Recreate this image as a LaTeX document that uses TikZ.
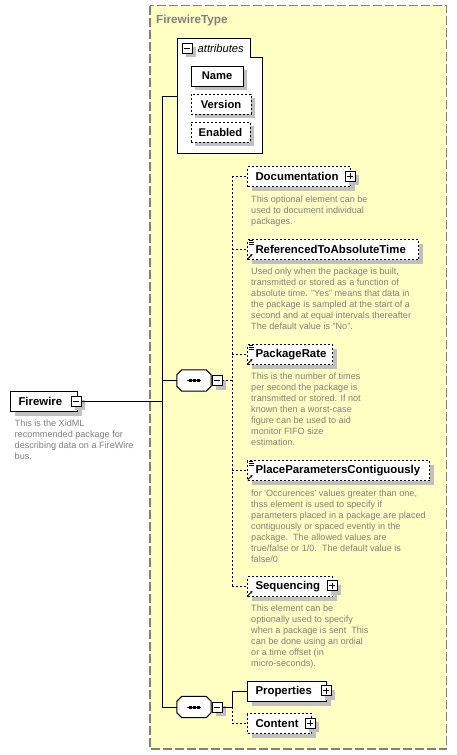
\documentclass[tikz,border=0pt]{standalone}
\usepackage{fontspec}
\setmainfont{Liberation Sans}
\usetikzlibrary{arrows.meta}
\definecolor{bgyellow}{RGB}{255,255,196}
\definecolor{descgray}{RGB}{128,128,128}
\definecolor{shadowgray}{RGB}{192,192,192}
\definecolor{bordergray}{RGB}{128,128,128}
\newcommand\seqoct[1]{%
  \fill[shadowgray,shift={(4,4)}] ([xshift=5pt]#1.north west) -- ([xshift=-5pt]#1.north east) -- ([yshift=-5pt]#1.north east)
    -- ([yshift=5pt]#1.south east) -- ([xshift=-5pt]#1.south east) -- ([xshift=5pt]#1.south west)
    -- ([yshift=5pt]#1.south west) -- ([yshift=-5pt]#1.north west) -- cycle;
  \draw[line width=1pt,fill=white] ([xshift=5pt]#1.north west) -- ([xshift=-5pt]#1.north east) -- ([yshift=-5pt]#1.north east)
    -- ([yshift=5pt]#1.south east) -- ([xshift=-5pt]#1.south east) -- ([xshift=5pt]#1.south west)
    -- ([yshift=5pt]#1.south west) -- ([yshift=-5pt]#1.north west) -- cycle;
  \draw[line width=1pt] ([xshift=-7pt]#1.center) -- ([xshift=7pt]#1.center);
  \foreach \dx in {-4,0,4}{\fill ([xshift=\dx pt]#1.center) +(-1.5pt,-1.5pt) rectangle +(1.5pt,1.5pt);}%
}
\begin{document}
\begin{tikzpicture}[x=1pt,y=-1pt,
  shadowed/.style={preaction={draw=none,fill=shadowgray,transform canvas={xshift=4pt,yshift=-4pt}}},
  elbox/.style={draw,fill=white,line width=1pt,minimum height=20pt,inner xsep=8pt,inner ysep=0pt,
    anchor=north west,align=left,font=\fontsize{11.4}{13}\selectfont\bfseries,shadowed},
  optbox/.style={elbox,dash pattern=on 2pt off 2pt},
  attbox/.style={draw,fill=white,line width=1pt,minimum height=20pt,inner sep=0pt,
    font=\fontsize{11.2}{13}\selectfont\bfseries,shadowed},
  optatt/.style={attbox,dash pattern=on 2pt off 2pt},
  pmbox/.style={draw,fill=white,line width=0.8pt,minimum size=10pt,inner sep=0pt,shadowed},
  minusbox/.style={pmbox,path picture={\draw[line width=0.8pt]
    ([xshift=2pt]path picture bounding box.west) -- ([xshift=-2pt]path picture bounding box.east);}},
  plusbox/.style={pmbox,path picture={\draw[line width=0.8pt]
    ([xshift=2pt]path picture bounding box.west) -- ([xshift=-2pt]path picture bounding box.east)
    ([yshift=-2pt]path picture bounding box.north) -- ([yshift=2pt]path picture bounding box.south);}},
  seqbox/.style={rectangle,draw=none,minimum width=34pt,minimum height=21pt,inner sep=0pt},
  desc/.style={anchor=north west,inner sep=0pt,align=left,font=\fontsize{9.1}{11}\selectfont,text=descgray},
  conn/.style={line width=1pt},
  dconn/.style={line width=1pt,dash pattern=on 2pt off 2pt},
  icon/.style={line width=0.8pt}
]
\useasboundingbox (0,0) rectangle (457,755);
\fill[white] (0,0) rectangle (457,755);

% outer type box
\draw[fill=bgyellow,draw=bordergray,line width=1.2pt,dash pattern=on 9pt off 3pt] (150,5.5) rectangle (446.5,749);
\node[anchor=base west,inner sep=0pt,text=bordergray,font=\fontsize{11.7}{13}\selectfont\bfseries] (ftype) at (156,23) {FirewireType};

% coordinates for connectors
\coordinate (tTop) at (162,96);
\coordinate (tBot) at (162,707);
\coordinate (attrW) at (177,96);
\coordinate (dTop) at (232,176);
\coordinate (dBot) at (232,585.5);
\coordinate (k) at (232,707);

% trunk line
\draw[conn] (tTop) -- (tBot);
\draw[conn] (tTop) -- (attrW);

% attributes box
\draw[line width=1pt,fill=white] (177,38) -- (250,38) -- (250,57) -- (262,57) -- (262,153) -- (177,153) -- cycle;
\node[minusbox,preaction={}] (attm) at (187,48) {};
\node[anchor=west,inner sep=0pt,font=\fontsize{11.2}{13}\selectfont\itshape] (attrlbl) at (197.5,48) {attributes};
\node[attbox,minimum width=52pt] (name) at (217,76) {Name};
\node[optatt,minimum width=60pt] (version) at (221,104) {Version};
\node[optatt,minimum width=59pt] (enabled) at (220.5,132) {Enabled};

% Firewire element
\node[elbox,text width=51pt] (fw) at (10,391) {\mbox{Firewire}};
\node[minusbox] (fwm) at (76,401) {};
\coordinate (j0) at (162,401);
\draw[conn] (fwm.east) -- (j0);
\node[desc] (fwd) at (14.5,418.8) {\strut This is the XidML\\recommended package for\\describing data on a FireWire\\bus.};

% first sequence
\node[seqbox] (s1) at (194,380.5) {};
\seqoct{s1}
\node[minusbox] (s1m) at (217,380.5) {};
\draw[conn] (s1.west -| tTop) -- (s1.west);
\draw[dconn] (s1m.east) -- (s1m.east -| dTop);
\draw[dconn] (dTop) -- (dBot);

% children of first sequence
\node[optbox,text width=87pt] (doc) at (247,166) {\mbox{Documentation}};
\node[plusbox] (docp) at (350,176) {};
\node[desc] (docd) at (251,194.3) {\strut This optional element can be\\used to document individual\\packages.};

\node[optbox,text width=155pt] (ref) at (247,239) {\mbox{ReferencedToAbsoluteTime}};
\node[desc] (refd) at (251,266.8) {\strut Used only when the package is built,\\transmitted or stored as a function of\\absolute time. "Yes" means that data in\\the package is sampled at the start of a\\second and at equal intervals thereafter\\The default value is "No".};

\node[optbox,text width=69pt] (rate) at (247,344) {\mbox{PackageRate}};
\node[desc] (rated) at (251,371.3) {\strut This is the number of times\\per second the package is\\transmitted or stored. If not\\known then a worst-case\\figure can be used to aid\\monitor FIFO size\\estimation.};

\node[optbox,text width=166pt] (ppc) at (247,460) {\mbox{PlaceParametersContiguously}};
\node[desc] (ppcd) at (251,488.3) {\strut for \textquotesingle Occurences\textquotesingle\ values greater than one,\\thss element is used to specify if\\parameters placed in a package are placed\\contiguously or spaced evently in the\\package.\ \ The allowed values are\\true/false or 1/0.\ \ The default value is\\false/0};

\node[optbox,text width=69pt] (seqg) at (247,576) {\mbox{Sequencing}};
\node[plusbox] (seqgp) at (332,585.5) {};
\node[desc] (seqgd) at (251,603.8) {\strut This element can be\\optionally used to specify\\when a package is sent\ \ This\\can be done using an ordial\\or a time offset (in\\micro-seconds).};

\foreach \n in {doc,ref,rate,ppc,seqg}{\draw[dconn] (\n.west -| dTop) -- (\n.west);}

% icons
\foreach \n in {ref,rate,ppc}{
  \draw[icon] ([shift={(1.5,1.5)}]\n.north west) -- ++(4,0)
              ([shift={(1.5,3.5)}]\n.north west) -- ++(5,0)
              ([shift={(1.5,5.5)}]\n.north west) -- ++(5,0);
}
\foreach \n in {ref,rate,ppc,seqg}{
  \draw[icon,-{Stealth[length=2.5pt,width=2.5pt]}] ([shift={(1,-1.5)}]\n.south west) -- ++(4.5,-4.5);
}

% second sequence
\node[seqbox] (s2) at (194,707) {};
\seqoct{s2}
\node[minusbox] (s2m) at (217,707) {};
\draw[conn] (s2.west -| tTop) -- (s2.west);
\draw[conn] (s2m.east) -- (k);

\node[elbox,text width=63pt] (prop) at (247,681) {\mbox{Properties}};
\node[plusbox] (propp) at (326,690.5) {};
\node[optbox,text width=48pt,minimum height=20pt] (cont) at (247,713) {\mbox{Content}};
\node[plusbox] (contp) at (310,723) {};
\draw[conn] (k) |- (prop.west);
\draw[dconn] (k) |- (cont.west);
\end{tikzpicture}
\end{document}
